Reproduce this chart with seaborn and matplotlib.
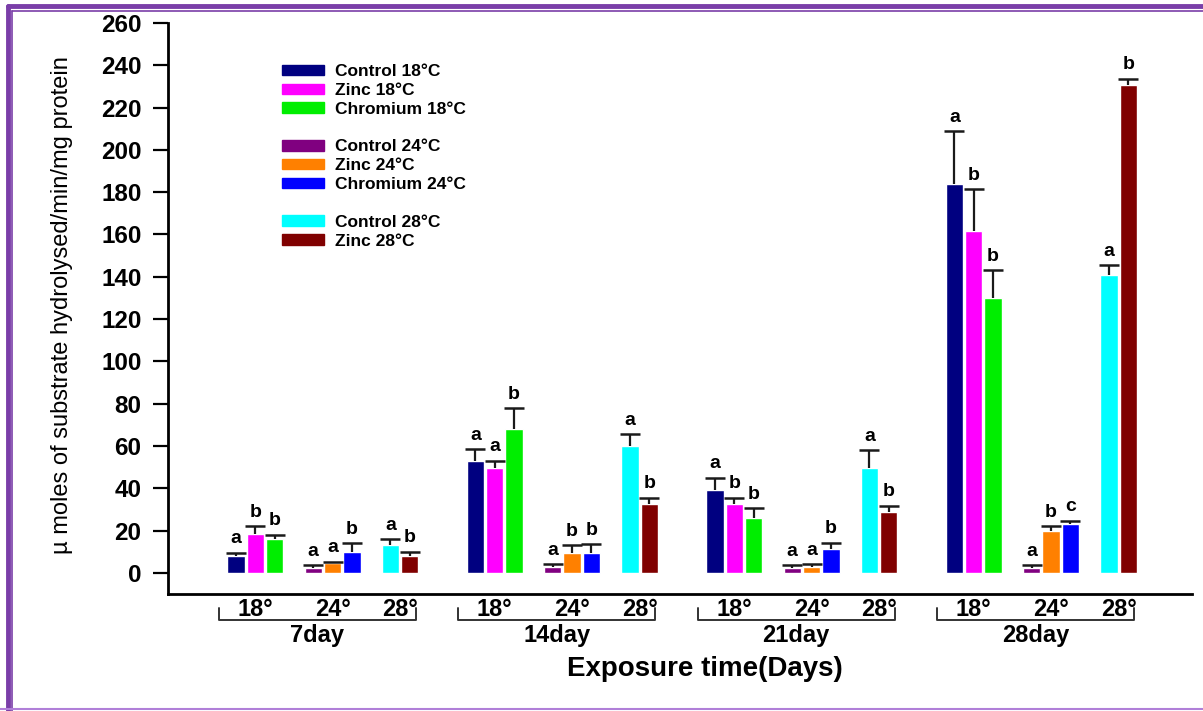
import numpy as np
import pandas as pd
import seaborn as sns
import matplotlib
matplotlib.use("Agg")
import matplotlib.pyplot as plt
from matplotlib.patches import Patch
from matplotlib.lines import Line2D
from matplotlib.transforms import blended_transform_factory

# Data (means, upper error bars, significance letters)
days = ["7day", "14day", "21day", "28day"]
temps = ["18°", "24°", "28°"]

series = ["Control 18°C", "Zinc 18°C", "Chromium 18°C",
          "Control 24°C", "Zinc 24°C", "Chromium 24°C",
          "Control 28°C", "Zinc 28°C"]
colors = ["#000080", "#ff00ff", "#00ee00",
          "#800080", "#ff8000", "#0000ff",
          "#00ffff", "#800000"]

control_18 = [8, 53, 39, 184]
zinc_18 = [18.5, 49.5, 32.5, 161.5]
chromium_18 = [16, 68, 26, 130]
control_24 = [2.5, 3, 2.5, 2.5]
zinc_24 = [4.7, 9.5, 3, 20]
chromium_24 = [10, 9.5, 11.3, 23.2]
control_28 = [13, 60, 49.5, 141]
zinc_28 = [8, 32.5, 28.8, 230.7]

control_18_err = [1.5, 5.5, 6, 25]
zinc_18_err = [3.5, 3.5, 3, 20]
chromium_18_err = [2, 10, 4.5, 13]
control_24_err = [1, 1, 1, 1]
zinc_24_err = [0.6, 3.5, 1, 2]
chromium_24_err = [4, 4, 3, 1.5]
control_28_err = [3, 5.5, 8.5, 4.5]
zinc_28_err = [2, 3, 3, 3]

control_18_sig = ["a", "a", "a", "a"]
zinc_18_sig = ["b", "a", "b", "b"]
chromium_18_sig = ["b", "b", "b", "b"]
control_24_sig = ["a", "a", "a", "a"]
zinc_24_sig = ["a", "b", "a", "b"]
chromium_24_sig = ["b", "b", "b", "c"]
control_28_sig = ["a", "a", "a", "a"]
zinc_28_sig = ["b", "b", "b", "b"]

values = [control_18, zinc_18, chromium_18, control_24, zinc_24, chromium_24, control_28, zinc_28]
errors = [control_18_err, zinc_18_err, chromium_18_err, control_24_err, zinc_24_err,
          chromium_24_err, control_28_err, zinc_28_err]
letters = [control_18_sig, zinc_18_sig, chromium_18_sig, control_24_sig, zinc_24_sig,
           chromium_24_sig, control_28_sig, zinc_28_sig]

# layout: slot of each series inside a day group, spacing between groups
slots = [0, 1, 2, 4, 5, 6, 8, 9]
group_pitch = 12.4
temp_pos = [1, 5, 8.5]

rows = []
for d, day in enumerate(days):
    for s, name in enumerate(series):
        rows.append({"pos": round(d * group_pitch + slots[s], 3), "value": values[s][d],
                     "err": errors[s][d], "sig": letters[s][d], "series": name})
df = pd.DataFrame(rows)

sns.set_style("ticks")
plt.rcParams["font.family"] = ["Liberation Sans", "DejaVu Sans"]
plt.rcParams["text.color"] = "black"
plt.rcParams["ytick.color"] = "black"

fig = plt.figure(figsize=(12.03, 7.11), dpi=100)
ax = fig.add_axes([168 / 1203, 1 - 594 / 711, (1192 - 168) / 1203, (594 - 23) / 711])

sns.barplot(data=df, x="pos", y="value", hue="series", hue_order=series,
            palette=colors, native_scale=True, dodge=False, width=0.9,
            errorbar=None, legend=False, saturation=1, ax=ax)

# upper-only error bars
eb = ax.errorbar(df["pos"], df["value"], yerr=[np.zeros(len(df)), df["err"]],
                 fmt="none", ecolor="#1a1a1a", elinewidth=1.6, capsize=7, capthick=1.8)
for cap in eb[1]:
    if np.allclose(cap.get_ydata(), df["value"]):
        cap.set_visible(False)

for _, r in df.iterrows():
    ax.text(r["pos"], r["value"] + r["err"] + 2.5, r["sig"], ha="center", va="bottom",
            fontsize=14, fontweight="bold")

ax.set_ylim(-10, 260)
ax.set_xlim(-3.52, 49.5)
ax.set_yticks(range(0, 261, 20))
ax.tick_params(axis="y", labelsize=17.5, width=1.6, length=11, pad=8, direction="out")
for lab in ax.get_yticklabels():
    lab.set_fontweight("bold")
ax.set_xticks([])
ax.set_xlabel("")
ax.set_ylabel("")
sns.despine(ax=ax)
ax.spines["left"].set_linewidth(2)
ax.spines["bottom"].set_linewidth(2)
ax.spines["left"].set_color("black")
ax.spines["bottom"].set_color("black")

# group brackets under the axis
tr = blended_transform_factory(ax.transData, ax.transAxes)
for d, day in enumerate(days):
    x0 = d * group_pitch - 0.9
    x1 = d * group_pitch + 9.3
    ax.plot([x0, x0, x1, x1], [-0.025, -0.046, -0.046, -0.025], color="#333333",
            lw=1.4, transform=tr, clip_on=False)
    for t, lab in enumerate(temps):
        ax.text(d * group_pitch + temp_pos[t], -0.027, lab, transform=tr, ha="center",
                va="center", fontsize=17, fontweight="bold")
    ax.text((x0 + x1) / 2, -0.073, day, transform=tr, ha="center", va="center",
            fontsize=17, fontweight="bold")

fig.text(705 / 1203, 1 - 669 / 711, "Exposure time(Days)", ha="center", va="center",
         fontsize=20, fontweight="bold")
fig.text(62 / 1203, 1 - 305 / 711, "µ moles of substrate hydrolysed/min/mg protein",
         rotation=90, ha="center", va="center", fontsize=17,
         family=["Liberation Sans Narrow", "Liberation Sans", "DejaVu Sans"])

# legend with blank spacer rows between temperature groups
blank = Patch(color="none", label=" ")
handles = [Patch(color=colors[i], label=series[i]) for i in range(3)] + [blank] + \
          [Patch(color=colors[i], label=series[i]) for i in range(3, 6)] + [blank] + \
          [Patch(color=colors[i], label=series[i]) for i in range(6, 8)]
leg = ax.legend(handles=handles, loc="upper left", bbox_to_anchor=(0.105, 0.94),
                frameon=False, prop={"weight": "bold", "size": 12.5},
                handlelength=2.4, handleheight=0.55, labelspacing=0.22,
                handletextpad=0.6, borderaxespad=0)

# purple page frame
purple = "#7a3ea8"
fig.add_artist(Line2D([8 / 1203, 1.01], [1 - 6 / 711] * 2, color=purple, lw=3.5,
                      transform=fig.transFigure))
fig.add_artist(Line2D([8 / 1203] * 2, [1 - 6 / 711, 0], color=purple, lw=3.5,
                      transform=fig.transFigure))
fig.add_artist(Line2D([12 / 1203, 1.01], [1 - 11 / 711] * 2, color=purple, lw=1.2,
                      transform=fig.transFigure))
fig.add_artist(Line2D([12 / 1203] * 2, [1 - 11 / 711, 0], color=purple, lw=1.2,
                      transform=fig.transFigure))
fig.add_artist(Line2D([0, 1], [1 - 709 / 711] * 2, color="#b07fd8", lw=1.5,
                      transform=fig.transFigure))

fig.savefig("out.png", dpi=100)
